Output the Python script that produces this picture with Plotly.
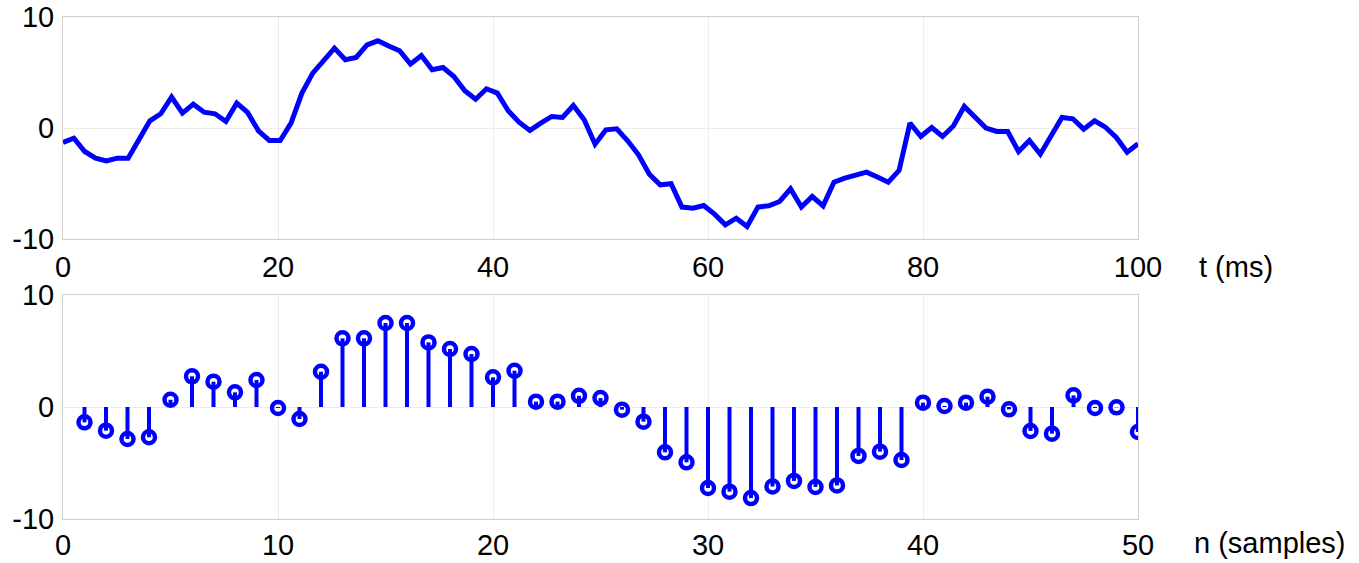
import numpy as np
import plotly.graph_objects as go

# continuous signal (100 samples spread over 0..100 ms)
signal = [-1.29, -0.9, -2.1, -2.7, -2.94, -2.7, -2.7, -1.05, 0.66, 1.29,
          2.79, 1.35, 2.16, 1.44, 1.29, 0.6, 2.25, 1.41, -0.24, -1.11,
          -1.11, 0.45, 3.15, 4.95, 6.15, 7.2, 6.15, 6.36, 7.5, 7.86,
          7.4, 6.96, 5.76, 6.54, 5.25, 5.46, 4.65, 3.36, 2.6, 3.54,
          3.15, 1.56, 0.54, -0.2, 0.45, 1.05, 0.96, 2.04, 0.75, -1.44,
          -0.15, -0.06, -1.14, -2.4, -4.14, -5.1, -5.0, -7.1, -7.2, -6.96,
          -7.74, -8.7, -8.1, -8.85, -7.1, -6.99, -6.6, -5.46, -7.1, -6.15,
          -6.99, -4.86, -4.5, -4.26, -3.96, -4.4, -4.86, -3.8, 0.45, -0.75,
          0.06, -0.75, 0.2, 1.95, 0.96, 0.0, -0.3, -0.3, -2.1, -1.11,
          -2.34, -0.75, 0.96, 0.84, -0.09, 0.66, 0.09, -0.84, -2.16, -1.41]
t_ms = np.linspace(0, 100, len(signal))

# sampled signal
n_samples = list(range(1, 51))
samples = [-1.37, -2.11, -2.86, -2.7, 0.65, 2.74, 2.26, 1.31, 2.41, -0.09,
           -1.07, 3.15, 6.13, 6.13, 7.5, 7.5, 5.77, 5.18, 4.73, 2.65,
           3.24, 0.48, 0.48, 1.0, 0.8, -0.24, -1.31, -4.05, -4.94, -7.23,
           -7.56, -8.13, -7.1, -6.6, -7.14, -7.0, -4.37, -3.99, -4.73, 0.39,
           0.09, 0.39, 0.92, -0.21, -2.14, -2.38, 1.04, -0.09, -0.03, -2.23]

top_ticks = [0, 20, 40, 60, 80, 100]
bot_ticks = [0, 10, 20, 30, 40, 50]
y_ticks = [-10, 0, 10]
y_ticklabels = ["-10", "0", "10"]

BLUE = "#0000FF"
FONT = "Arial, Liberation Sans, sans-serif"
FS = 29

fig = go.Figure()
fig.add_trace(go.Scatter(x=t_ms, y=signal, mode="lines",
                         line=dict(color=BLUE, width=5),
                         xaxis="x", yaxis="y", showlegend=False))

# stems
sx, sy = [], []
for n, v in zip(n_samples, samples):
    sx += [n, n, None]
    sy += [0, v, None]
fig.add_trace(go.Scatter(x=sx, y=sy, mode="lines",
                         line=dict(color=BLUE, width=4),
                         xaxis="x2", yaxis="y2", showlegend=False))
fig.add_trace(go.Scatter(x=n_samples, y=samples, mode="markers",
                         marker=dict(symbol="circle-open", size=12,
                                     color=BLUE, line=dict(width=4.5, color=BLUE)),
                         xaxis="x2", yaxis="y2", showlegend=False))

axis_common = dict(showgrid=True, gridcolor="#ececec", gridwidth=1,
                   showline=True, linecolor="#cfcfcf", linewidth=1, mirror=True,
                   zeroline=False, ticks="", automargin=False,
                   tickfont=dict(family=FONT, size=FS, color="black"))

fig.update_layout(
    width=1359, height=563,
    margin=dict(l=63, r=221, t=17, b=44),
    plot_bgcolor="white", paper_bgcolor="white",
    xaxis=dict(domain=[0, 1], range=[0, 100], tickvals=top_ticks,
               anchor="y", ticklabelstandoff=2, **axis_common),
    yaxis=dict(domain=[0.5572, 1], range=[-10, 10], tickvals=y_ticks,
               ticktext=y_ticklabels,
               anchor="x", ticklabelstandoff=2, **axis_common),
    xaxis2=dict(domain=[0, 1], range=[0, 50], tickvals=bot_ticks,
                anchor="y2", ticklabelstandoff=0, **axis_common),
    yaxis2=dict(domain=[0, 0.4462], range=[-10, 10], tickvals=y_ticks,
                ticktext=y_ticklabels,
                anchor="x2", ticklabelstandoff=2, **axis_common),
    annotations=[
        dict(text="t (ms)", xref="paper", yref="paper",
             x=(1197 - 63) / 1075, y=(563 - 44 - 267) / 502,
             xanchor="left", yanchor="middle", showarrow=False,
             font=dict(family=FONT, size=FS, color="black")),
        dict(text="n (samples)", xref="paper", yref="paper",
             x=(1192 - 63) / 1075, y=(563 - 44 - 543) / 502,
             xanchor="left", yanchor="middle", showarrow=False,
             font=dict(family=FONT, size=FS, color="black")),
    ],
)

fig.write_html("out.html", config={"displayModeBar": False},
               post_script="document.body.style.margin='0px';document.body.style.overflow='hidden';")
